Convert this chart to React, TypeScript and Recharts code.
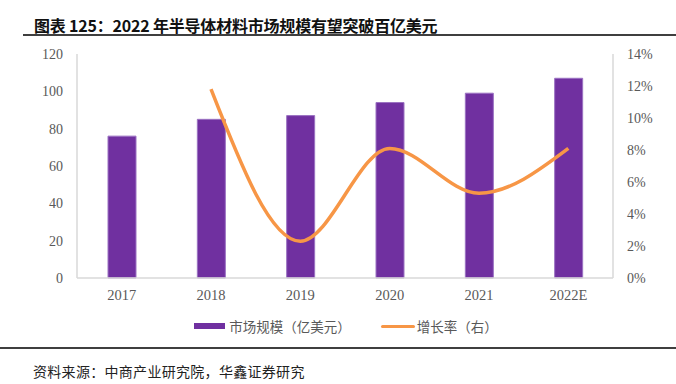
import React from 'react';
import {
  Bar,
  ComposedChart,
  Legend,
  Line,
  XAxis,
  YAxis,
} from 'recharts';

// 数据
const years = ['2017', '2018', '2019', '2020', '2021', '2022E'];
const marketSize = [76, 85, 87, 94, 99, 107];
const growthRate: (number | null)[] = [null, 0.118, 0.023, 0.081, 0.053, 0.081];
const leftTicks = [0, 20, 40, 60, 80, 100, 120];
const rightTicks = [0, 0.02, 0.04, 0.06, 0.08, 0.1, 0.12, 0.14];

const barName = '市场规模（亿美元）';
const lineName = '增长率（右）';
const purple = '#7030A0';
const orange = '#F79646';
const tickColor = '#595959';
const axisColor = '#D9D9D9';
const cjkFont = '"Noto Sans CJK SC", "Noto Sans", sans-serif';
const numFont = '"Liberation Serif", "DejaVu Serif", serif';

const chartData = years.map((year, i) => ({
  year,
  size: marketSize[i],
  rate: growthRate[i],
}));

const LegendContent = () => (
  <div
    style={{
      display: 'flex',
      justifyContent: 'center',
      alignItems: 'center',
      fontFamily: cjkFont,
      fontSize: 13.5,
      color: tickColor,
      paddingLeft: 16,
      height: 20,
    }}
  >
    <span style={{ width: 31, height: 6, background: purple, marginRight: 4 }} />
    <span style={{ marginRight: 30 }}>{barName}</span>
    <span style={{ width: 34, height: 3, background: orange, borderRadius: 2, marginRight: 2 }} />
    <span>{lineName}</span>
  </div>
);

export default function App() {
  return (
    <div
      style={{
        position: 'absolute',
        left: 0,
        top: 0,
        width: 676,
        height: 384,
        background: '#fff',
        overflow: 'hidden',
      }}
    >
      <div
        style={{
          position: 'absolute',
          left: 34,
          top: 14,
          fontFamily: cjkFont,
          fontWeight: 700,
          fontSize: 16,
          lineHeight: '22px',
          letterSpacing: -0.2,
          color: '#111',
          whiteSpace: 'nowrap',
        }}
      >
        图表 125：2022 年半导体材料市场规模有望突破百亿美元
      </div>
      <div style={{ position: 'absolute', left: 23, top: 34, width: 653, height: 1.5, background: '#3f3f3f' }} />

      <div style={{ position: 'absolute', left: 0, top: 0 }}>
        <ComposedChart
          width={676}
          height={384}
          data={chartData}
          margin={{ top: 54, right: 13, bottom: 56, left: 27 }}
        >
          <XAxis
            dataKey="year"
            height={30}
            tickSize={0}
            tickMargin={12}
            axisLine={{ stroke: axisColor, strokeWidth: 1.5 }}
            tickLine={false}
            tick={{ fill: tickColor, fontSize: 14.5, fontFamily: numFont }}
            interval={0}
          />
          <YAxis
            yAxisId="left"
            domain={[0, 120]}
            ticks={leftTicks}
            width={50}
            tickSize={0}
            tickMargin={14}
            axisLine={{ stroke: axisColor, strokeWidth: 1.5 }}
            tickLine={false}
            tick={{ fill: tickColor, fontSize: 14, fontFamily: numFont }}
          />
          <YAxis
            yAxisId="right"
            orientation="right"
            domain={[0, 0.14]}
            ticks={rightTicks}
            width={50}
            tickSize={0}
            tickMargin={14}
            axisLine={{ stroke: axisColor, strokeWidth: 1.5 }}
            tickLine={false}
            tick={{ fill: tickColor, fontSize: 14, fontFamily: numFont }}
            tickFormatter={(v: number) => `${Math.round(v * 100)}%`}
          />
          <Legend
            verticalAlign="bottom"
            wrapperStyle={{ top: 316, left: 0, width: 676, height: 20 }}
            content={<LegendContent />}
          />
          <Bar
            yAxisId="left"
            dataKey="size"
            name={barName}
            fill={purple}
            stroke="#9B72C2"
            strokeWidth={1}
            barSize={28}
            isAnimationActive={false}
          />
          <Line
            yAxisId="right"
            dataKey="rate"
            name={lineName}
            type="monotone"
            stroke={orange}
            strokeWidth={3.5}
            dot={false}
            activeDot={false}
            connectNulls={false}
            isAnimationActive={false}
          />
        </ComposedChart>
      </div>

      <div style={{ position: 'absolute', left: 0, top: 347, width: 676, height: 1.5, background: '#3f3f3f' }} />
      <div
        style={{
          position: 'absolute',
          left: 33,
          top: 361,
          fontFamily: cjkFont,
          fontSize: 14,
          lineHeight: '20px',
          letterSpacing: 0.3,
          color: '#222',
          whiteSpace: 'nowrap',
        }}
      >
        资料来源：中商产业研究院，华鑫证券研究
      </div>
    </div>
  );
}
